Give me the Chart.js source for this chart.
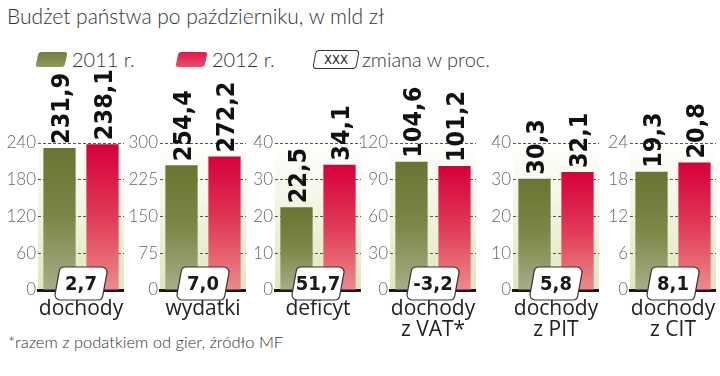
<!DOCTYPE html>
<html>
<head>
<meta charset="utf-8">
<script src="https://cdn.jsdelivr.net/npm/chart.js@4.4.1/dist/chart.umd.min.js"></script>
<style>
    body{margin:0;background:#fff;width:720px;height:376px;overflow:hidden;position:relative;font-family:Lato,"Open Sans",sans-serif;color:#333;}
    .abs{position:absolute;}
    #title{left:7px;top:3px;font-size:21px;font-weight:300;white-space:nowrap;}
    .sw{width:29px;height:15px;border-radius:3px;transform:skewX(-12deg);top:52px;}
    #sw2011{left:37px;background:linear-gradient(#747f3e,#8e9862);}
    #sw2012{left:177px;background:linear-gradient(#e2174a,#e8506a);}
    .lt{top:47px;font-size:20px;font-weight:300;white-space:nowrap;}
    #boxXXX{left:314px;top:50px;width:42px;height:17px;border:1px solid #333;border-radius:4px;transform:skewX(-10deg);}
    #boxXXX span{display:block;transform:skewX(10deg);text-align:center;font:13px "Liberation Sans Narrow","DejaVu Sans Condensed",sans-serif;line-height:17px;color:#222;}
    canvas{position:absolute;top:70px;}
    #note{left:8px;top:332px;font-size:16.5px;font-weight:300;white-space:nowrap;}
</style>
</head>
<body>
<div id="title" class="abs">Budżet państwa po październiku, w mld zł</div>
<div id="sw2011" class="abs sw"></div><div id="lt2011" class="abs lt" style="left:72px"></div>
<div id="sw2012" class="abs sw"></div><div id="lt2012" class="abs lt" style="left:212px"></div>
<div id="boxXXX" class="abs"><span>XXX</span></div><div class="abs lt" style="left:362px">zmiana w proc.</div>
<div id="note" class="abs">*razem z podatkiem od gier, źródło MF</div>
<script>
//Chart data
const years = ['2011 r.', '2012 r.'];
const categories = [['dochody', ''], ['wydatki', ''], ['deficyt', ''], ['dochody', 'z VAT*'], ['dochody', 'z PIT'], ['dochody', 'z CIT']];
const values2011 = [231.9, 254.4, 22.5, 104.6, 30.3, 19.3];
const values2012 = [238.1, 272.2, 34.1, 101.2, 32.1, 20.8];
const changes = [2.7, 7.0, 51.7, -3.2, 5.8, 8.1];
const axisMax = [240, 300, 40, 120, 40, 24];
const axisStep = [60, 75, 10, 30, 10, 6];

//Layout of the six small panels
const panelX = [4, 126, 241, 356, 479, 596];
const PANEL_W = 120;
const PANEL_H = 276;

const fmt = (v) => v.toFixed(1).replace('.', ',');

document.getElementById('lt2011').textContent = years[0];
document.getElementById('lt2012').textContent = years[1];

const panelBg = {
    /* pale fading background behind the bars */
    id: 'panelBg',
    beforeDraw(chart) {
        const {ctx, chartArea: a} = chart;
        const g = ctx.createLinearGradient(0, a.top, 0, a.bottom);
        g.addColorStop(0, '#ffffff');
        g.addColorStop(1, '#e1e6bd');
        ctx.save();
        ctx.fillStyle = g;
        ctx.fillRect(a.left, a.top, a.right - a.left, a.bottom - a.top);
        ctx.restore();
    }
};

const valueLabels = {
    /* rotated value labels above each bar */
    id: 'valueLabels',
    afterDatasetsDraw(chart) {
        const ctx = chart.ctx;
        const meta = chart.getDatasetMeta(0);
        ctx.save();
        ctx.font = 'bold 25px "Liberation Sans Narrow", "DejaVu Sans Condensed", sans-serif';
        ctx.fillStyle = '#111';
        ctx.textAlign = 'left';
        ctx.textBaseline = 'alphabetic';
        meta.data.forEach((el, i) => {
            ctx.save();
            ctx.translate(el.x + 9, el.y - 4);
            ctx.rotate(-Math.PI / 2);
            ctx.fillText(fmt(chart.data.datasets[0].data[i]), 0, 0);
            ctx.restore();
        });
        ctx.restore();
    }
};

const changeBox = {
    /* slanted box with the percent change, sitting on the zero line */
    id: 'changeBox',
    afterDraw(chart, args, opts) {
        const ctx = chart.ctx;
        const a = chart.chartArea;
        const cx = (a.left + a.right) / 2;
        const top = a.bottom - 23, bottom = a.bottom + 10;
        const w = 48, s = 3, r = 5;
        const p = [[cx - w / 2 + s, top], [cx + w / 2 + s, top], [cx + w / 2 - s, bottom], [cx - w / 2 - s, bottom]];
        ctx.save();
        ctx.beginPath();
        ctx.moveTo((p[0][0] + p[1][0]) / 2, top);
        for (let k = 1; k <= 4; k++) {
            const c = p[k % 4], n = p[(k + 1) % 4];
            ctx.arcTo(c[0], c[1], n[0], n[1], r);
        }
        ctx.closePath();
        ctx.fillStyle = '#fff';
        ctx.fill();
        ctx.lineWidth = 1.2;
        ctx.strokeStyle = '#333';
        ctx.stroke();
        ctx.font = '600 20px "Liberation Sans Narrow", "DejaVu Sans Condensed", sans-serif';
        ctx.fillStyle = '#1a1a1a';
        ctx.textAlign = 'center';
        ctx.textBaseline = 'middle';
        ctx.fillText(fmt(opts.value), cx, (top + bottom) / 2 + 1);
        ctx.restore();
    }
};

const barColor = (c) => {
    /* vertical gradient for each bar, from its top down to the base */
    const chart = c.chart;
    const area = chart.chartArea;
    if (!area) return null;
    const yTop = chart.scales.y.getPixelForValue(c.raw);
    const g = chart.ctx.createLinearGradient(0, yTop, 0, area.bottom);
    if (c.dataIndex === 0) {
        g.addColorStop(0, '#6a7533');
        g.addColorStop(0.5, '#7c8748');
        g.addColorStop(1, '#a6ae88');
    }
    else {
        g.addColorStop(0, '#d6003b');
        g.addColorStop(0.5, '#e13a58');
        g.addColorStop(1, '#ec8b8b');
    }
    return g;
};

categories.forEach((cat, i) => {
    const cv = document.createElement('canvas');
    cv.width = PANEL_W;
    cv.height = PANEL_H;
    cv.style.left = panelX[i] + 'px';
    document.body.appendChild(cv);
    new Chart(cv, {
        type: 'bar',
        data: {
            labels: years,
            datasets: [{
                data: [values2011[i], values2012[i]],
                backgroundColor: barColor,
                borderWidth: 0,
                barPercentage: 0.75,
                categoryPercentage: 1
            }]
        },
        options: {
            responsive: false,
            animation: false,
            devicePixelRatio: 1,
            layout: {padding: {top: 73, bottom: 4, left: 0, right: 0}},
            plugins: {
                legend: {display: false},
                tooltip: {enabled: false},
                changeBox: {value: changes[i]}
            },
            scales: {
                x: {
                    grid: {display: false},
                    border: {color: '#1a1a1a', width: 3},
                    ticks: {display: false},
                    title: {
                        display: true,
                        text: cat,
                        color: '#222',
                        font: {family: '"Open Sans", sans-serif', size: 21, lineHeight: 1.0},
                        padding: {top: 0, bottom: 1}
                    },
                    afterFit: (scale) => { scale.height = 52; }
                },
                y: {
                    min: 0,
                    max: axisMax[i],
                    ticks: {
                        stepSize: axisStep[i],
                        padding: 2,
                        color: '#666',
                        font: {family: 'Lato, "Open Sans", sans-serif', size: 17, weight: '300'}
                    },
                    grid: {color: '#555', lineWidth: 1, drawTicks: false},
                    border: {display: false, dash: [3, 2]},
                    afterFit: (scale) => { scale.width = 34; }
                }
            }
        },
        plugins: [panelBg, valueLabels, changeBox]
    });
});
</script>
</body>
</html>
